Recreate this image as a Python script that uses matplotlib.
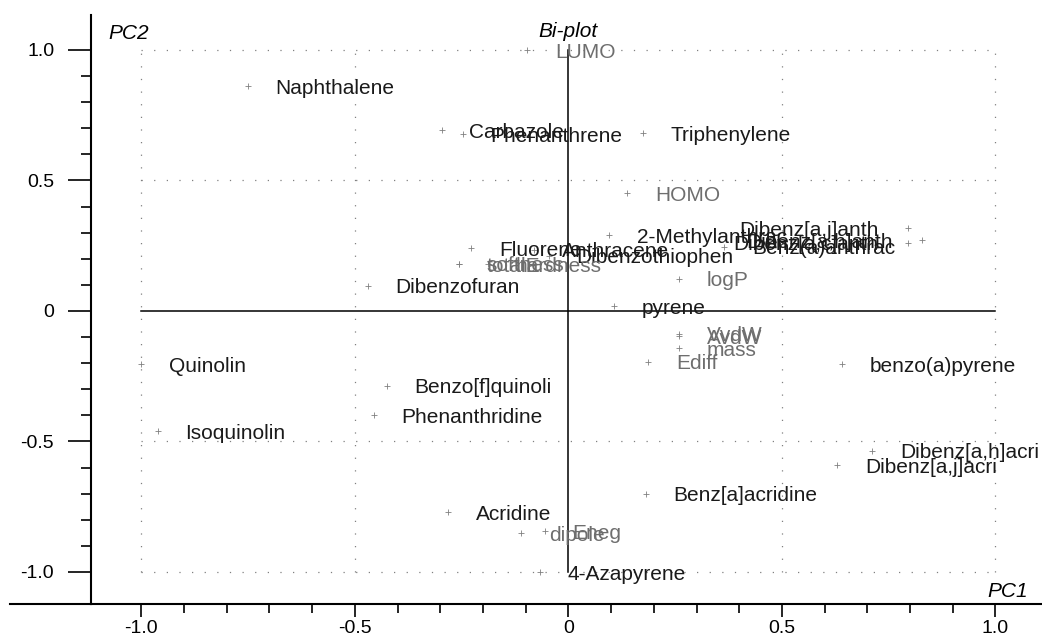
import numpy as np
import matplotlib
matplotlib.use("Agg")
import matplotlib.pyplot as plt
from matplotlib.lines import Line2D

plt.rcParams['font.family'] = ['Liberation Sans', 'DejaVu Sans']

# compound scores (black labels)
compounds = ['Naphthalene', 'Carbazole', 'Phenanthrene', 'Triphenylene', 'Fluorene',
             'Anthracene', 'Dibenzothiophen', '2-Methylanthrac', 'Dibenz[a,j]anth',
             'Dibenz[a,h]anth', 'Dibenz[a,c]anth', 'Benz(a)anthrac', 'Dibenzofuran',
             'pyrene', 'Quinolin', 'Isoquinolin', 'Benzo[f]quinoli', 'Phenanthridine',
             'benzo(a)pyrene', 'Dibenz[a,h]acri', 'Dibenz[a,j]acri', 'Benz[a]acridine',
             'Acridine', '4-Azapyrene']
comp_pc1 = [-0.751, -0.297, -0.248, 0.175, -0.228, -0.081, -0.046, 0.096, 0.795,
            0.828, 0.795, 0.365, -0.470, 0.107, -1.000, -0.962, -0.426, -0.456,
            0.641, 0.711, 0.630, 0.181, -0.282, -0.067]
comp_pc2 = [0.862, 0.693, 0.677, 0.681, 0.241, 0.234, 0.211, 0.291, 0.318,
            0.272, 0.261, 0.246, 0.097, 0.019, -0.204, -0.460, -0.287, -0.400,
            -0.204, -0.535, -0.591, -0.701, -0.771, -1.001]

# variable loadings (grey labels)
variables = ['LUMO', 'HOMO', 'logP', 'softness', 'totalE', 'hardness', 'VvdW', 'AvdW',
             'mass', 'Ediff', 'dipole', 'Eneg']
var_pc1 = [-0.096, 0.138, 0.259, -0.256, -0.256, -0.189, 0.259, 0.259, 0.259, 0.187,
           -0.111, -0.055]
var_pc2 = [1.000, 0.452, 0.124, 0.181, 0.178, 0.180, -0.088, -0.096, -0.143, -0.194,
           -0.852, -0.843]

grid_vals = [-1.0, -0.5, 0.5, 1.0]
major = [-1.0, -0.5, 0.0, 0.5, 1.0]
major_labels = ['-1.0', '-0.5', '0', '0.5', '1.0']

W, H = 1042, 644
fig = plt.figure(figsize=(W / 100, H / 100), dpi=100)
ax = fig.add_axes([91 / W, 40 / H, (W - 91) / W, (604 - 15) / H])
ax.set_xlim(-1.118, 1.109)
ax.set_ylim(-1.123, 1.134)

# dotted grid and solid zero axes
for g in grid_vals:
    ax.plot([-1, 1], [g, g], color='#808080', lw=0.9, ls=(0, (1, 9.1)), zorder=1)
    ax.plot([g, g], [-1, 1], color='#808080', lw=0.9, ls=(0, (1, 9.1)), zorder=1)
ax.plot([-1, 1], [0, 0], color='black', lw=1.1, zorder=2)
ax.plot([0, 0], [-1, 1], color='black', lw=1.1, zorder=2)

ax.plot(comp_pc1, comp_pc2, ls='none', marker='+', ms=4, mew=0.6, color='#808080', zorder=3)
ax.plot(var_pc1, var_pc2, ls='none', marker='+', ms=4, mew=0.6, color='#808080', zorder=3)

def label(names, xs, ys, color):
    for n, x, y in zip(names, xs, ys):
        if x > 0.75:
            ax.annotate(n, (x, y), xytext=(-21, -1.5), textcoords='offset points',
                        ha='right', va='center', fontsize=15, color=color, zorder=4)
        else:
            ax.annotate(n, (x, y), xytext=(20, -1.5), textcoords='offset points',
                        ha='left', va='center', fontsize=15, color=color, zorder=4)

label(compounds, comp_pc1, comp_pc2, '#1a1a1a')
label(variables, var_pc1, var_pc2, '#6e6e6e')

for s in ['top', 'right']:
    ax.spines[s].set_visible(False)
for s in ['left', 'bottom']:
    ax.spines[s].set_linewidth(1.5)

ax.set_xticks(major)
ax.set_xticklabels(major_labels)
ax.set_yticks(major)
ax.set_yticklabels(major_labels)
minor = [round(v, 1) for v in np.arange(-1.0, 1.01, 0.1) if round(v, 1) not in major]
ax.set_xticks(minor, minor=True)
ax.set_yticks(minor, minor=True)
ax.tick_params(axis='x', which='major', length=9.5, width=1.2, pad=2, labelsize=14)
ax.tick_params(axis='x', which='minor', length=6.7, width=1.2)
ax.tick_params(axis='y', which='major', length=16.5, width=1.2, pad=10, labelsize=14)
ax.tick_params(axis='y', which='minor', length=7.2, width=1.2)

# bottom line runs past the left spine
fig.add_artist(Line2D([10 / W, 91 / W], [40 / H, 40 / H], color='black', lw=1.5))

fig.text(108 / W, 1 - 39 / H, 'PC2', fontsize=15, style='italic', va='baseline')
fig.text(568 / W, 1 - 37 / H, 'Bi-plot', fontsize=15, style='italic', va='baseline', ha='center')
fig.text(1028 / W, 1 - 597 / H, 'PC1', fontsize=15, style='italic', va='baseline', ha='right')

fig.savefig('out.png', dpi=100)
